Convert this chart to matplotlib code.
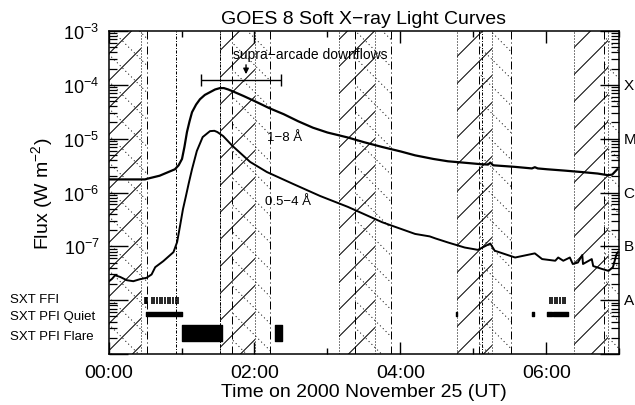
import numpy as np
import matplotlib
matplotlib.use('Agg')
import matplotlib.pyplot as plt
import matplotlib.transforms as mtransforms
from matplotlib.collections import LineCollection
from matplotlib.ticker import FixedLocator, NullFormatter, MultipleLocator

plt.rcParams['font.family'] = ['Liberation Sans', 'DejaVu Sans']
plt.rcParams['mathtext.default'] = 'regular'

# time in hours after 00:00 UT, flux in W m^-2
t_long = [0.00, 0.25, 0.50, 0.53, 0.70, 0.91, 0.96, 1.007, 1.04, 1.075, 1.11, 1.144,
          1.20, 1.253, 1.32, 1.39, 1.46, 1.527, 1.58, 1.64, 1.70, 1.85, 2.00, 2.20,
          2.40, 2.60, 2.80, 3.00, 3.28, 3.50, 3.75, 4.00, 4.20, 4.45, 4.65, 4.90,
          5.11, 5.20, 5.23, 5.27, 5.56, 5.80, 5.84, 5.88, 6.01, 6.25, 6.48, 6.70,
          6.84, 6.90, 6.97]
f_long = [1.75e-6, 1.75e-6, 1.75e-6, 1.8e-6, 2.05e-6, 2.7e-6, 3.2e-6, 4.2e-6, 7e-6,
          1.33e-5, 2.1e-5, 3.1e-5, 4.3e-5, 5.4e-5, 6.5e-5, 7.3e-5, 8.2e-5, 8.7e-5,
          8.7e-5, 8.2e-5, 7.6e-5, 6.2e-5, 5.0e-5, 3.7e-5, 2.85e-5, 2.1e-5, 1.6e-5,
          1.3e-5, 1.05e-5, 8.6e-6, 7.0e-6, 5.8e-6, 4.9e-6, 4.2e-6, 3.8e-6, 3.55e-6,
          3.35e-6, 3.3e-6, 3.6e-6, 3.2e-6, 3.0e-6, 2.8e-6, 2.95e-6, 2.8e-6, 2.7e-6,
          2.55e-6, 2.4e-6, 2.25e-6, 2.1e-6, 2.15e-6, 2.7e-6]

t_short = [0.00, 0.05, 0.09, 0.16, 0.25, 0.34, 0.43, 0.52, 0.59, 0.64, 0.75, 0.89,
           0.94, 0.98, 1.02, 1.06, 1.10, 1.144, 1.21, 1.29, 1.39, 1.45, 1.49, 1.57,
           1.70, 1.94, 2.17, 2.53, 2.90, 3.28, 3.75, 4.20, 4.40, 4.48, 4.65, 4.88,
           5.06, 5.23, 5.29, 5.57, 5.84, 5.94, 6.12, 6.16, 6.23, 6.32, 6.36, 6.43,
           6.49, 6.50, 6.62, 6.64, 6.76, 6.85, 6.91, 6.96, 6.98]
f_short = [2.2e-8, 2.5e-8, 2.9e-8, 2.7e-8, 2.35e-8, 2.25e-8, 2.45e-8, 2.6e-8, 3.0e-8,
           4.1e-8, 5.3e-8, 7.8e-8, 1.2e-7, 2.4e-7, 4.9e-7, 8.5e-7, 1.5e-6, 2.7e-6,
           5.9e-6, 1.07e-5, 1.38e-5, 1.4e-5, 1.33e-5, 1.12e-5, 7.3e-6, 3.7e-6, 2.4e-6,
           1.44e-6, 8.6e-7, 5.4e-7, 2.8e-7, 1.7e-7, 1.53e-7, 1.4e-7, 1.18e-7, 9.5e-8,
           8.6e-8, 1.13e-7, 8.3e-8, 6.2e-8, 7.4e-8, 5.8e-8, 5.4e-8, 6.2e-8, 5.4e-8,
           6.2e-8, 4.7e-8, 5.0e-8, 6.9e-8, 4.7e-8, 5.8e-8, 4.3e-8, 3.8e-8, 3.5e-8,
           4.1e-8, 7.2e-8, 7.8e-8]

# spacecraft night and SAA passages (hours)
night = [(-0.05, 0.445), (1.527, 2.007), (3.157, 3.651), (4.774, 5.253), (6.377, 6.843)]
saa = [(-0.05, 0.527), (1.692, 2.212), (3.377, 3.870), (5.075, 5.514), (6.788, 7.3)]
extra_lines = [0.93, 1.53, 5.12]

# Yohkoh SXT coverage
ffi_times = [0.50, 0.513, 0.527, 0.59, 0.627, 0.664, 0.70, 0.737, 0.774, 0.811, 0.847,
             0.884, 0.92, 0.956, 6.05, 6.08, 6.12, 6.15, 6.19, 6.22, 6.26]
quiet_runs = [(0.51, 0.49), (4.765, 0.015), (5.805, 0.02), (6.01, 0.06), (6.09, 0.20)]
flare_runs = [(1.003, 0.547), (2.28, 0.09)]

row_names = ['SXT FFI', 'SXT PFI Quiet', 'SXT PFI Flare']
row_y = [10**-7.98, 10**-8.30, 10**-8.67]

goes_class = ['A', 'B', 'C', 'M', 'X']
class_flux = [1e-8, 1e-7, 1e-6, 1e-5, 1e-4]
decades = [1e-9, 1e-8, 1e-7, 1e-6, 1e-5, 1e-4, 1e-3]
left_labels = ['', '', r'$10^{-7}$', r'$10^{-6}$', r'$10^{-5}$', r'$10^{-4}$', r'$10^{-3}$']
hour_ticks = [0, 2, 4, 6]
hour_labels = ['00:00', '02:00', '04:00', '06:00']

bar_t0, bar_t1, bar_f = 1.267, 2.363, 1.24e-4

minor_y = [m * d for d in decades[:-1] for m in range(2, 10)]

fig = plt.figure(figsize=(6.35, 4.06), dpi=100)
ax = fig.add_axes([108.5/635, 51/406, 511/635, 323/406])
ax.set_yscale('log')
ax.set_xlim(0, 7)
ax.set_ylim(1e-9, 1e-3)

# axis ticks first
ax.set_xticks(hour_ticks)
ax.set_xticklabels(hour_labels)
ax.xaxis.set_minor_locator(MultipleLocator(1))
ax.yaxis.set_major_locator(FixedLocator(decades))
ax.set_yticklabels(left_labels)
ax.yaxis.set_minor_locator(FixedLocator(minor_y))
ax.yaxis.set_minor_formatter(NullFormatter())
ax.tick_params(axis='both', which='both', direction='in', top=True, right=True)
ax.tick_params(axis='x', which='major', length=8.6, width=1, pad=7, labelsize=14)
ax.tick_params(axis='x', which='minor', length=4.3, width=1)
ax.tick_params(axis='y', which='major', length=13.7, width=1, pad=6.5, labelsize=13)
ax.tick_params(axis='y', which='minor', length=5.8, width=0.9)

AX_W, AX_H = 511.0, 323.0
STEP = 27.0 / AX_H


def hatch_band(x0, x1, sign, ls):
    x0, x1 = max(x0, 0), min(x1, 7)
    band = ax.axvspan(x0, x1, facecolor='none', edgecolor='none', lw=0)
    k = sign * AX_W / AX_H
    offs = np.arange(-3, 3, STEP)
    segs = [[(0, c), (1, c + k)] for c in offs]
    lc = LineCollection(segs, colors='k', linewidths=0.72, linestyles=ls,
                        transform=ax.transAxes)
    ax.add_collection(lc, autolim=False)
    lc.set_clip_path(band)


for a, b in night:
    hatch_band(a, b, 1, 'solid')
    for x in (a, b):
        if 0 < x < 7:
            ax.axvline(x, color='k', lw=0.72, ls=(0, (1, 2)))
for a, b in saa:
    hatch_band(a, b, -1, (0, (1, 3)))
    for x in (a, b):
        if 0 < x < 7:
            ax.axvline(x, color='k', lw=0.72, ls=(0, (8, 3, 1, 3)))
for x in extra_lines:
    ax.axvline(x, color='k', lw=0.72, ls=(0, (3, 1.5, 1, 1.5)))

ax.plot(t_long, f_long, color='k', lw=1.6)
ax.plot(t_short, f_short, color='k', lw=1.4)

ax.text(2.17, 1.07e-5, '1\u22128 \u00c5', fontsize=9.5, va='center', ha='left')
ax.text(2.14, 6.9e-7, '0.5\u22124 \u00c5', fontsize=9.5, va='center', ha='left')

# supra-arcade downflow interval
ax.errorbar([(bar_t0 + bar_t1) / 2], [bar_f], xerr=[(bar_t1 - bar_t0) / 2],
            color='k', lw=1, capsize=4, capthick=1, fmt='none')
ax.annotate('', xy=(1.884, 1.4e-4), xytext=(1.884, 2.65e-4),
            arrowprops=dict(arrowstyle='-|>', color='k', lw=1, mutation_scale=8))
ax.text(1.705, 3.74e-4, 'supra\u2212arcade downflows', fontsize=10, va='center', ha='left')

# SXT coverage rows
ax.vlines(ffi_times, 10**-8.08, 10**-7.94, color='k', lw=1.2)
ax.broken_barh(quiet_runs, (10**-8.30, 10**-8.22 - 10**-8.30), color='k')
ax.broken_barh(flare_runs, (10**-8.76, 10**-8.465 - 10**-8.76), color='k')
tr = mtransforms.blended_transform_factory(fig.transFigure, ax.transData)
for name, y in zip(row_names, row_y):
    ax.text(10/635, y, name, transform=tr, fontsize=9.5, va='center', ha='left')

# GOES class letters on the right
tr_r = mtransforms.blended_transform_factory(ax.transAxes, ax.transData)
for name, y in zip(goes_class, class_flux):
    ax.text(1 + 4/511, y, name, transform=tr_r, fontsize=11, va='center', ha='left')

ax.set_xlim(0, 7)
ax.set_ylim(1e-9, 1e-3)

for s in ax.spines.values():
    s.set_linewidth(1.1)

ax.set_title('GOES 8 Soft X\u2212ray Light Curves', fontsize=14, pad=6)
ax.set_xlabel('Time on 2000 November 25 (UT)', fontsize=14, labelpad=2)
ax.set_ylabel('Flux (W m$^{-2}$)', fontsize=14, labelpad=6)

fig.savefig('out.png', dpi=100)
